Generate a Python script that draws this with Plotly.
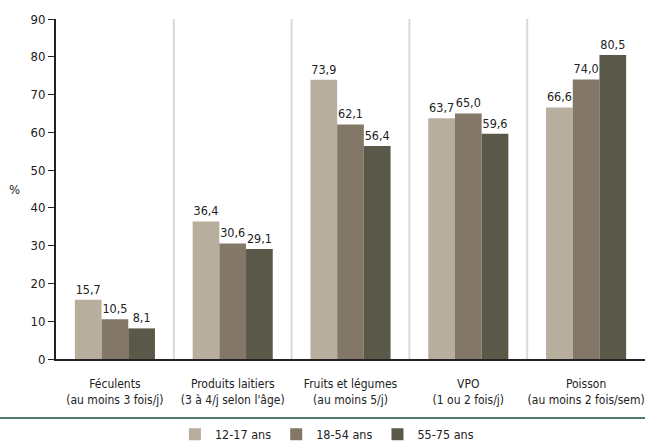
import plotly.graph_objects as go

categories = ["Féculents<br>(au moins 3 fois/j)", "Produits laitiers<br>(3 à 4/j selon l'âge)",
              "Fruits et légumes<br>(au moins 5/j)", "VPO<br>(1 ou 2 fois/j)",
              "Poisson<br>(au moins 2 fois/sem)"]
series_names = ["12-17 ans", "18-54 ans", "55-75 ans"]
v_12_17 = [15.7, 36.4, 73.9, 63.7, 66.6]
v_18_54 = [10.5, 30.6, 62.1, 65.0, 74.0]
v_55_75 = [8.1, 29.1, 56.4, 59.6, 80.5]
colors = ["#b8ae9e", "#837868", "#5a5849"]
y_ticks = [0, 10, 20, 30, 40, 50, 60, 70, 80, 90]

FONT = "DejaVu Sans Condensed"

fig = go.Figure()
for name, vals, col in zip(series_names, [v_12_17, v_18_54, v_55_75], colors):
    fig.add_trace(go.Bar(
        x=categories, y=vals, name=name, marker_color=col, marker_line_width=0,
        text=[f"{v:.1f}".replace(".", ",") for v in vals], textposition="outside",
        textfont=dict(size=12.5, color="#222222", family=FONT), cliponaxis=False,
    ))

for i in range(len(categories) - 1):
    fig.add_shape(type="line", xref="x", yref="paper", x0=i + 0.5, x1=i + 0.5, y0=0, y1=1,
                  line=dict(color="#d9d9d9", width=2), layer="below")

fig.add_shape(type="line", xref="paper", yref="paper", x0=-56 / 590, x1=1, y0=-59 / 340, y1=-59 / 340,
              line=dict(color="#4f7a6e", width=2))

fig.add_annotation(text="%", xref="paper", yref="paper", x=-42 / 590, y=0.5, showarrow=False,
                   font=dict(size=13, color="#222222", family=FONT), xanchor="center", yanchor="middle")

fig.update_layout(
    width=645, height=445,
    margin=dict(l=56, r=0, t=19, b=86, autoexpand=False),
    plot_bgcolor="white", paper_bgcolor="white",
    font=dict(size=12, color="#222222", family=FONT),
    barmode="group", bargap=0.32, bargroupgap=0,
    showlegend=True,
    legend=dict(orientation="h", x=0.46, xanchor="center", y=-0.178, yanchor="top",
                font=dict(size=12.5, family=FONT), itemwidth=30, tracegroupgap=0),
    xaxis=dict(showline=True, linecolor="#222222", linewidth=2, ticks="", showgrid=False,
               tickangle=0, automargin=False, ticklabelstandoff=13,
               tickfont=dict(size=12, family=FONT)),
    yaxis=dict(range=[0, 90], tickvals=y_ticks, showline=True, linecolor="#222222", linewidth=2,
               ticks="outside", ticklen=6, tickcolor="#222222", showgrid=False, zeroline=False,
               automargin=False, tickfont=dict(size=13, family=FONT)),
)

fig.write_html("out.html", post_script="document.body.style.margin='0';",
               config={"displayModeBar": False})
